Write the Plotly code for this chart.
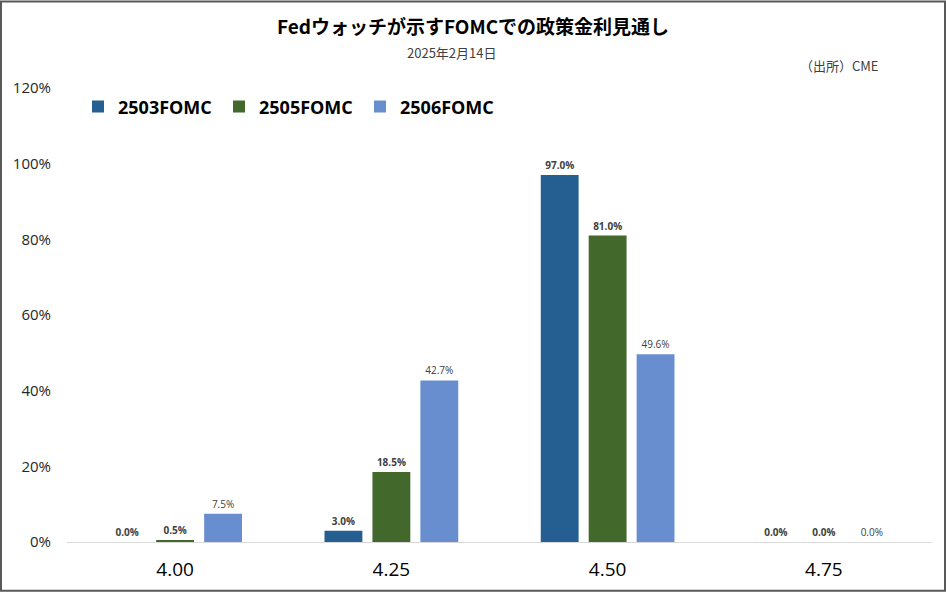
import plotly.graph_objects as go

categories = ["4.00", "4.25", "4.50", "4.75"]
s2503 = [0.0, 3.0, 97.0, 0.0]
s2505 = [0.5, 18.5, 81.0, 0.0]
s2506 = [7.5, 42.7, 49.6, 0.0]
series_names = ["2503FOMC", "2505FOMC", "2506FOMC"]
colors = ["#255E91", "#43682B", "#698ED0"]
y_ticks = [0, 20, 40, 60, 80, 100, 120]

W, H = 946, 594
L, R, T, B = 67, 14, 88, 50
PW, PH = W - L - R, H - T - B

def px(x):
    return (x - L) / PW

def py(y):
    return (H - B - y) / PH

fig = go.Figure()
for name, vals, col, bold in zip(series_names, [s2503, s2505, s2506], colors, [True, True, False]):
    tt = "<b>%{y:.1f}%</b>" if bold else "%{y:.1f}%"
    fig.add_trace(go.Bar(
        x=categories, y=vals, name=name,
        marker=dict(color=col, line=dict(width=0)),
        texttemplate=tt, textposition="outside",
        textfont=dict(size=10, color="#404040", family="Open Sans"),
        cliponaxis=False,
    ))

font_main = "Open Sans, Noto Sans CJK JP, sans-serif"
fig.update_layout(
    width=W, height=H,
    margin=dict(l=L, r=R, t=T, b=B),
    paper_bgcolor="white", plot_bgcolor="white",
    barmode="group", bargap=0.335, bargroupgap=0.21,
    uniformtext=dict(minsize=10, mode="show"),
    font=dict(family=font_main, color="#262626"),
    title=dict(text="<b>Fedウォッチが示すFOMCでの政策金利見通し</b>",
               x=0.5, xanchor="center", y=1 - 27 / H, yanchor="middle",
               font=dict(size=19, family="Noto Sans CJK JP", color="#000000")),
    legend=dict(orientation="h", x=px(78), y=py(107), xanchor="left", yanchor="middle",
                font=dict(size=18, family="Open Sans", color="#000000", weight="bold"),
                entrywidth=96, entrywidthmode="pixels", itemsizing="constant",
                bgcolor="rgba(0,0,0,0)"),
    showlegend=True,
    xaxis=dict(showgrid=False, showline=True, linecolor="#d9d9d9", linewidth=1,
               ticks="", tickfont=dict(size=19, color="#000000"), ticklabelstandoff=10),
    yaxis=dict(range=[0, 120], tickvals=y_ticks, ticktext=[f"{v}%" for v in y_ticks],
               showgrid=False, zeroline=False, showline=False, ticks="",
               tickfont=dict(size=15, color="#262626"), ticklabelstandoff=15),
)

fig.add_annotation(text="2025年2月14日", x=px(452), xref="paper", y=py(52), yref="paper",
                   showarrow=False, xanchor="center", yanchor="middle",
                   font=dict(size=13, family="Noto Sans CJK JP", color="#404040"))
fig.add_annotation(text="（出所）CME", x=px(881), xref="paper", y=py(65), yref="paper",
                   showarrow=False, xanchor="right", yanchor="middle",
                   font=dict(size=13, family="Noto Sans CJK JP", color="#404040"))
fig.add_shape(type="rect", xref="paper", yref="paper",
              x0=px(1), x1=px(945), y0=py(593), y1=py(1),
              line=dict(color="#595959", width=2), fillcolor="rgba(0,0,0,0)", layer="above")

fig.write_html("out.html")
